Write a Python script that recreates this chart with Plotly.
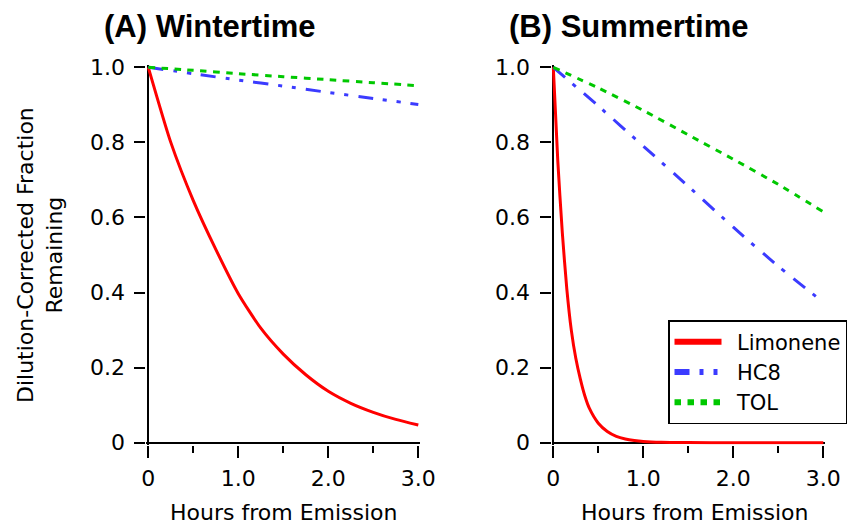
import plotly.graph_objects as go

# ---------------- data ----------------
series_names = ["Limonene", "HC8", "TOL"]
panel_titles = ["(A) Wintertime", "(B) Summertime"]

# Wintertime
hours_lim_w = [0, 0.25, 0.5, 0.75, 1.0, 1.25, 1.5, 1.75, 2.0, 2.25, 2.5, 2.75, 3.0]
limonene_w = [1.0, 0.80, 0.645, 0.515, 0.397, 0.305, 0.236, 0.181, 0.137, 0.105, 0.081, 0.062, 0.047]
hours_voc = [0, 0.5, 1.0, 1.5, 2.0, 2.5, 3.0]
hc8_w = [1.0, 0.983, 0.966, 0.950, 0.933, 0.917, 0.901]
tol_w = [1.0, 0.992, 0.983, 0.975, 0.967, 0.959, 0.951]

# Summertime
hours_lim_s = [0, 0.05, 0.1, 0.15, 0.2, 0.25, 0.3, 0.35, 0.4, 0.5, 0.6, 0.7, 0.8, 0.9,
               1.0, 1.2, 1.5, 2.0, 2.5, 3.0]
limonene_s = [1.0, 0.75, 0.56, 0.41, 0.30, 0.225, 0.17, 0.125, 0.092, 0.052, 0.030, 0.017,
              0.010, 0.006, 0.0035, 0.0012, 0.0003, 0.0, 0.0, 0.0]
hc8_s = [1.0, 0.897, 0.790, 0.683, 0.574, 0.470, 0.374]
tol_s = [1.0, 0.945, 0.885, 0.820, 0.755, 0.688, 0.615]

x_tickvals = [0, 1, 2, 3]
x_ticktext = ["0", "1.0", "2.0", "3.0"]
x_minorvals = [0.5, 1.5, 2.5]
y_tickvals = [0, 0.2, 0.4, 0.6, 0.8, 1.0]
y_ticktext = ["0", "0.2", "0.4", "0.6", "0.8", "1.0"]
x_title = "Hours from Emission"
y_title = "Dilution-Corrected Fraction<br>Remaining"

# ---------------- styles ----------------
RED = "#FF0000"
BLUE = "#3B3BFF"
GREEN = "#00C800"
DASH_HC8_W = "15px,10px,4px,10px,4px,10px"
DASH_HC8_S = "15px,10px,4px,11px"
DASH_TOL = "6.5px,6.5px"
TICKFONT = dict(family="DejaVu Sans", size=22, color="black")

fig = go.Figure()

def add_panel(xa, ya, hl, lim, hc8, tol, hc8dash):
    fig.add_trace(go.Scatter(x=hl, y=lim, mode="lines", xaxis=xa, yaxis=ya,
                             line=dict(color=RED, width=3, shape="spline", smoothing=0.6),
                             showlegend=False))
    fig.add_trace(go.Scatter(x=hours_voc, y=hc8, mode="lines", xaxis=xa, yaxis=ya,
                             line=dict(color=BLUE, width=3, dash=hc8dash, shape="spline", smoothing=0.6),
                             showlegend=False))
    fig.add_trace(go.Scatter(x=hours_voc, y=tol, mode="lines", xaxis=xa, yaxis=ya,
                             line=dict(color=GREEN, width=3, dash=DASH_TOL, shape="spline", smoothing=0.6),
                             showlegend=False))

add_panel("x", "y", hours_lim_w, limonene_w, hc8_w, tol_w, DASH_HC8_W)
add_panel("x2", "y2", hours_lim_s, limonene_s, hc8_s, tol_s, DASH_HC8_S)

# legend-only entries (thicker samples like the reference)
for name, col, dash in zip(series_names, [RED, BLUE, GREEN], ["solid", DASH_HC8_W, DASH_TOL]):
    fig.add_trace(go.Scatter(x=[None], y=[None], mode="lines", name="\u2002" + name,
                             xaxis="x2", yaxis="y2",
                             line=dict(color=col, width=6, dash=dash), showlegend=True))

xcommon = dict(range=[-0.02, 3.02], showline=False, showgrid=False, automargin=False,
               zeroline=True, zerolinecolor="black", zerolinewidth=1.5,
               tickmode="array", tickvals=x_tickvals, ticktext=x_ticktext,
               ticks="outside", ticklen=12, tickwidth=1.5, tickcolor="black",
               tickfont=TICKFONT, ticklabelstandoff=2,
               minor=dict(tickmode="array", tickvals=x_minorvals, ticks="outside",
                          ticklen=7, tickwidth=1.5, tickcolor="black"),
               fixedrange=True)
ycommon = dict(range=[-0.005, 1.006], showline=False, showgrid=False, automargin=False,
               zeroline=True, zerolinecolor="black", zerolinewidth=1.5,
               tickmode="array", tickvals=y_tickvals, ticktext=y_ticktext,
               ticks="outside", ticklen=11, tickwidth=1.5, tickcolor="black",
               tickfont=TICKFONT, ticklabelstandoff=5, fixedrange=True)

fig.update_layout(
    width=849, height=525, autosize=False,
    margin=dict(l=0, r=0, t=0, b=0, pad=0, autoexpand=False),
    paper_bgcolor="white", plot_bgcolor="white",
    xaxis=dict(domain=[0.17255, 0.49482], anchor="y", **xcommon),
    yaxis=dict(domain=[0.15318, 0.87610], anchor="x", **ycommon),
    xaxis2=dict(domain=[0.64959, 0.97185], anchor="y2", **xcommon),
    yaxis2=dict(domain=[0.15318, 0.87610], anchor="x2", **ycommon),
    showlegend=True,
    legend=dict(x=668 / 849, y=1 - 320 / 525, xanchor="left", yanchor="top",
                bgcolor="white", bordercolor="black", borderwidth=1.5,
                font=dict(family="DejaVu Sans", size=21, color="black"),
                itemwidth=47, tracegroupgap=0),
)

annotations = [
    dict(text=panel_titles[0], x=209.5 / 849, y=1 - 27 / 525),
    dict(text=panel_titles[1], x=628.3 / 849, y=1 - 27 / 525),
]
for a in annotations:
    a.update(xref="paper", yref="paper", xanchor="center", yanchor="middle", showarrow=False,
             font=dict(family="Liberation Sans", size=31, color="black"))
    a["text"] = "<b>" + a["text"] + "</b>"
    fig.add_annotation(**a)

for cx in [284.2, 695.0]:
    fig.add_annotation(text=x_title, x=cx / 849, y=1 - 512 / 525, xref="paper", yref="paper",
                       xanchor="center", yanchor="middle", showarrow=False,
                       font=dict(family="DejaVu Sans", size=22, color="black"))

fig.add_annotation(text=y_title, x=40 / 849, y=1 - 255 / 525, xref="paper", yref="paper",
                   xanchor="center", yanchor="middle", showarrow=False, textangle=-90,
                   font=dict(family="DejaVu Sans", size=22, color="black"))

fig.write_html("out.html")
